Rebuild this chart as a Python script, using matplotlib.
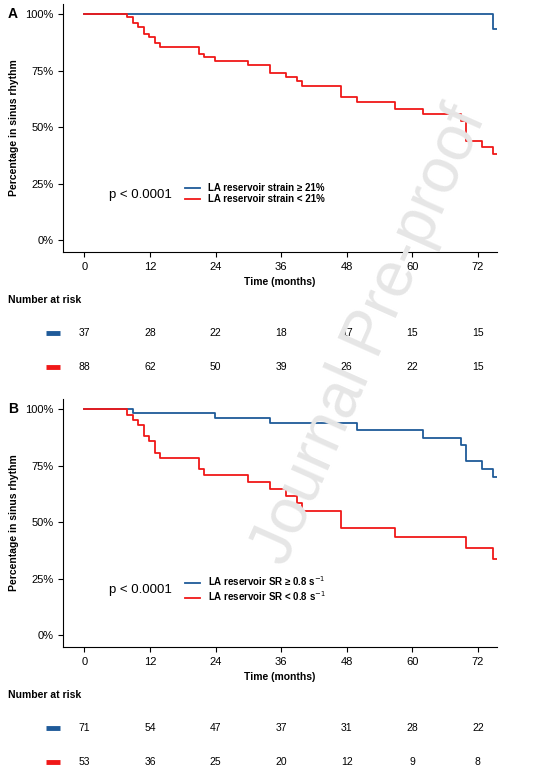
import matplotlib.pyplot as plt
import numpy as np

plt.rcParams['font.family'] = ['Liberation Sans', 'DejaVu Sans']

# Panel A: LA reservoir strain
a_hi_t = [0, 74.8, 75.5]
a_hi_s = [100, 93.3, 93.3]
a_lo_t = [0, 7.9, 8.9, 9.9, 10.9, 11.9, 13.0, 13.9, 20.9, 21.9, 23.9, 29.9, 33.9, 36.9,
          38.9, 39.9, 47.0, 49.9, 56.9, 61.9, 68.9, 69.8, 72.8, 74.8, 75.5]
a_lo_s = [100, 98.8, 95.9, 94.4, 91.4, 89.9, 87.3, 85.5, 82.5, 81.0, 79.3, 77.6, 73.9, 72.1,
          70.2, 68.0, 63.3, 60.9, 58.2, 55.6, 52.9, 44.0, 41.0, 38.0, 38.0]
# Panel B: LA reservoir strain rate
b_hi_t = [0, 8.9, 23.9, 33.9, 49.9, 61.9, 68.9, 69.8, 72.8, 74.8, 75.5]
b_hi_s = [100, 98.2, 96.0, 93.8, 90.6, 87.3, 84.1, 77.1, 73.5, 70.1, 70.1]
b_lo_t = [0, 7.9, 8.9, 9.9, 10.9, 11.9, 13.0, 13.9, 20.9, 21.9, 29.9, 33.9, 36.9, 38.9,
          39.9, 47.0, 56.9, 69.8, 74.8, 75.5]
b_lo_s = [100, 97.6, 95.1, 92.9, 88.2, 85.8, 80.8, 78.5, 73.5, 70.8, 67.7, 64.6, 61.7, 58.3,
          54.9, 47.6, 43.4, 38.5, 33.6, 33.6]

risk_times = [0, 12, 24, 36, 48, 60, 72]
a_risk_hi = [37, 28, 22, 18, 17, 15, 15]
a_risk_lo = [88, 62, 50, 39, 26, 22, 15]
b_risk_hi = [71, 54, 47, 37, 31, 28, 22]
b_risk_lo = [53, 36, 25, 20, 12, 9, 8]

blue = '#1f5a99'
red = '#f01818'
W, H = 545, 774
fig = plt.figure(figsize=(W / 100, H / 100), dpi=100)


def box(l, t, r, b):
    return [l / W, 1 - b / H, (r - l) / W, (b - t) / H]


def km_panel(top, letter, ts, labels, risks):
    ax = fig.add_axes(box(63, top, 497, top + 248))
    (t1, s1), (t2, s2) = ts
    ax.step(t1, s1, where='post', color=blue, lw=1.3, label=labels[0])
    ax.step(t2, s2, where='post', color=red, lw=1.3, label=labels[1])
    ax.set_xlim(-3.9, 75.5)
    ax.set_ylim(-5.3, 104.5)
    ax.set_xticks(risk_times)
    ax.set_yticks([0, 25, 50, 75, 100])
    ax.set_yticklabels(['0%', '25%', '50%', '75%', '100%'])
    ax.tick_params(labelsize=8)
    for s in ['top', 'right']:
        ax.spines[s].set_visible(False)
    ax.set_xlabel('Time (months)', fontsize=7.5, fontweight='bold')
    ax.set_ylabel('Percentage in sinus rhythm', fontsize=7.5, fontweight='bold')
    ax.text(4.5, 20, 'p < 0.0001', fontsize=9.5, va='center')
    ax.legend(loc='center left', bbox_to_anchor=(0.26, 0.235), frameon=False,
              prop={'size': 7, 'weight': 'bold'}, handlelength=1.6, labelspacing=0.15)
    fig.text(8 / W, 1 - (top + 10) / H, letter, fontsize=10, fontweight='bold', va='center')
    fig.text(8 / W, 1 - (top + 296) / H, 'Number at risk', fontsize=7.5,
             fontweight='bold', va='center')
    rax = fig.add_axes(box(63, top + 312, 497, top + 380))
    rax.set_xlim(-3.9, 75.5)
    rax.set_ylim(-0.5, 1.5)
    rax.axis('off')
    for row, (vals, c) in enumerate(zip(risks, [blue, red])):
        y = 1 - row
        rax.plot([-7.1, -4.5], [y, y], color=c, lw=3.5, clip_on=False, solid_capstyle='butt')
        for t, v in zip(risk_times, vals):
            rax.text(t, y, str(v), ha='center', va='center', fontsize=7.5)
    return ax


km_panel(4, 'A', [(a_hi_t, a_hi_s), (a_lo_t, a_lo_s)],
         ['LA reservoir strain ≥ 21%', 'LA reservoir strain < 21%'], [a_risk_hi, a_risk_lo])
km_panel(399, 'B', [(b_hi_t, b_hi_s), (b_lo_t, b_lo_s)],
         ['LA reservoir SR ≥ 0.8 s$^{-1}$', 'LA reservoir SR < 0.8 s$^{-1}$'], [b_risk_hi, b_risk_lo])

fig.text(370 / W, 1 - 335 / H, 'Journal Pre-proof', fontsize=46, color='#e6e6e6',
         rotation=66, ha='center', va='center', zorder=0)

fig.savefig('out.png', dpi=100)
